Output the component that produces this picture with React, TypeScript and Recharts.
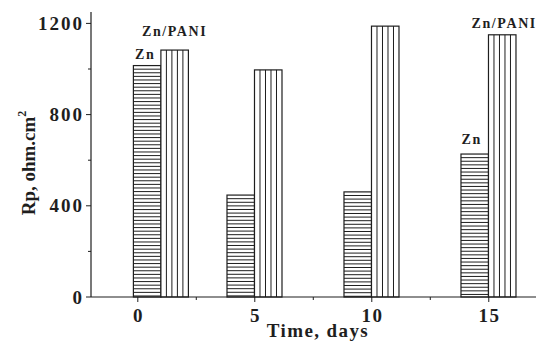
import React from "react";
import { ComposedChart, Bar, XAxis, YAxis, LabelList } from "recharts";

// Data
const dayPositions = [1, 5, 10, 15];
const znValues = [1015, 447, 461, 627];
const paniValues = [1083, 996, 1188, 1150];
const znLabels = ["Zn", "", "", "Zn"];
const paniLabels = ["Zn/PANI", "", "", "Zn/PANI"];
const xTickValues = [0, 2.5, 5, 7.5, 10, 12.5, 15];
const xMajorTicks = [0, 5, 10, 15];
const yTickValues = [0, 200, 400, 600, 800, 1000, 1200];
const yMajorTicks = [0, 400, 800, 1200];

const data = dayPositions.map((d, i) => ({
  day: d,
  zn: znValues[i],
  pani: paniValues[i],
  znLabel: znLabels[i],
  paniLabel: paniLabels[i],
}));

const FONT = "'Liberation Serif', 'Times New Roman', serif";
const INK = "#1e1e1e";

// label placement tweaks (style only)
const znLift = [7, 8, 8, 10];
const znShift = [-2, 0, 0, -3];
const paniLift = [14, 8, 8, 7];
const paniShift = [0, 0, 0, 2];

const ZnShape = (props: any) => {
  const { x, y, width, height } = props;
  if (!height || height <= 0) return null;
  const lines: React.ReactNode[] = [];
  const step = 3.6;
  for (let yy = y + step; yy < y + height - 0.5; yy += step) {
    lines.push(
      <line key={yy} x1={x} x2={x + width} y1={yy} y2={yy} stroke={INK} strokeWidth={1} />
    );
  }
  return (
    <g>
      <rect x={x} y={y} width={width} height={height} fill="#fff" />
      {lines}
      <rect x={x} y={y} width={width} height={height} fill="none" stroke={INK} strokeWidth={1.2} />
    </g>
  );
};

const PaniShape = (props: any) => {
  const { x, y, width, height } = props;
  if (!height || height <= 0) return null;
  const lines: React.ReactNode[] = [];
  for (let i = 1; i < 5; i++) {
    const xx = x + (width * i) / 5;
    lines.push(
      <line key={i} x1={xx} x2={xx} y1={y} y2={y + height} stroke={INK} strokeWidth={1} />
    );
  }
  return (
    <g>
      <rect x={x} y={y} width={width} height={height} fill="#fff" />
      {lines}
      <rect x={x} y={y} width={width} height={height} fill="none" stroke={INK} strokeWidth={1.2} />
    </g>
  );
};

const makeBarLabel = (lift: number[], shift: number[]) => (props: any) => {
  const { x, y, width, value, index } = props;
  if (!value) return null;
  return (
    <text
      x={x + width / 2 + shift[index]}
      y={y - lift[index]}
      textAnchor="middle"
      fontFamily={FONT}
      fontWeight="bold"
      fontSize={14}
      letterSpacing={1.6}
      fill={INK}
    >
      {value}
    </text>
  );
};

const XTick = (props: any) => {
  const { x, y, payload } = props;
  const major = xMajorTicks.includes(payload.value);
  return (
    <g>
      <line x1={x} x2={x} y1={y} y2={y + (major ? 5 : 3)} stroke={INK} strokeWidth={1} />
      {major && (
        <text
          x={x + 0.75}
          y={y + 25}
          textAnchor="middle"
          fontFamily={FONT}
          fontWeight="bold"
          fontSize={19}
          letterSpacing={1.5}
          fill={INK}
        >
          {payload.value}
        </text>
      )}
    </g>
  );
};

const YTick = (props: any) => {
  const { x, y, payload } = props;
  const major = yMajorTicks.includes(payload.value);
  return (
    <g>
      <line x1={x - (major ? 5 : 3)} x2={x} y1={y} y2={y} stroke={INK} strokeWidth={1} />
      {major && (
        <text
          x={x - 7}
          y={y + 6.5}
          textAnchor="end"
          fontFamily={FONT}
          fontWeight="bold"
          fontSize={19}
          letterSpacing={2}
          fill={INK}
        >
          {payload.value}
        </text>
      )}
    </g>
  );
};

const YTitle = () => (
  <text
    x={27}
    y={155}
    transform="rotate(-90, 27, 155)"
    textAnchor="middle"
    fontFamily={FONT}
    fontWeight="bold"
    fontSize={19}
    fill={INK}
  >
    Rp, ohm.cm
    <tspan fontSize={12} dy={-9}>2</tspan>
  </text>
);

const XTitle = () => (
  <text
    x={310}
    y={329}
    textAnchor="middle"
    fontFamily={FONT}
    fontWeight="bold"
    fontSize={19}
    letterSpacing={1.4}
    fill={INK}
  >
    Time, days
  </text>
);

export default function App() {
  return (
    <ComposedChart
      width={536}
      height={337}
      data={data}
      margin={{ top: 4, right: 0, left: 0, bottom: 0 }}
      barGap={0}
    >
      <XAxis
        xAxisId="top"
        orientation="top"
        type="number"
        dataKey="day"
        domain={[-2, 17.36]}
        allowDataOverflow
        height={0}
        tick={false}
        tickLine={false}
        axisLine={{ stroke: INK, strokeWidth: 1.2 }}
      />
      <XAxis
        type="number"
        dataKey="day"
        domain={[-2, 17.36]}
        allowDataOverflow
        ticks={xTickValues}
        interval={0}
        height={48}
        tickSize={0}
        tickMargin={0}
        tickLine={false}
        tick={<XTick />}
        axisLine={{ stroke: INK, strokeWidth: 1.2 }}
        label={{ content: <XTitle /> }}
      />
      <YAxis
        type="number"
        domain={[0, 1250]}
        ticks={yTickValues}
        interval={0}
        width={83}
        tickSize={0}
        tickMargin={0}
        tickLine={false}
        tick={<YTick />}
        axisLine={{ stroke: INK, strokeWidth: 1.2 }}
        label={{ content: <YTitle /> }}
      />
      <Bar dataKey="zn" barSize={27.5} shape={<ZnShape />} isAnimationActive={false}>
        <LabelList dataKey="znLabel" content={makeBarLabel(znLift, znShift)} />
      </Bar>
      <Bar dataKey="pani" barSize={27.5} shape={<PaniShape />} isAnimationActive={false}>
        <LabelList dataKey="paniLabel" content={makeBarLabel(paniLift, paniShift)} />
      </Bar>
    </ComposedChart>
  );
}
